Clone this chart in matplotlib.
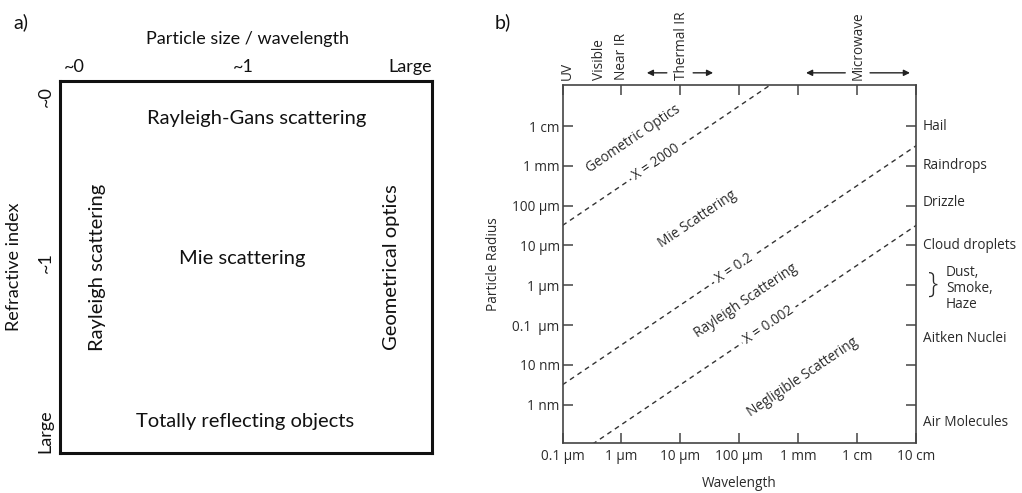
import numpy as np
import matplotlib.pyplot as plt
from matplotlib.transforms import blended_transform_factory

# panel b data
wl_ticks = [1e-7, 1e-6, 1e-5, 1e-4, 1e-3, 1e-2, 1e-1]
wl_labels = ["0.1 µm", "1 µm", "10 µm", "100 µm", "1 mm", "1 cm", "10 cm"]
r_ticks = [1e-9, 1e-8, 1e-7, 1e-6, 1e-5, 1e-4, 1e-3, 1e-2]
r_labels = ["1 nm", "10 nm", "0.1  µm", "1 µm", "10 µm", "100 µm", "1 mm", "1 cm"]

size_params = [2000, 0.2, 0.002]
size_labels = ["X = 2000", "X = 0.2", "X = 0.002"]
size_label_wl = [3.9e-6, 8.2e-5, 3.2e-4]

regions = ["Geometric Optics", "Mie Scattering", "Rayleigh Scattering", "Negligible Scattering"]
region_wl = [1.57e-6, 1.92e-5, 1.30e-4, 1.21e-3]
region_r = [4.7e-3, 4.65e-5, 4.1e-7, 4.8e-9]

particles = ["Hail", "Raindrops", "Drizzle", "Cloud droplets", "Aitken Nuclei", "Air Molecules"]
particle_r = [1e-2, 1e-3, 1.2e-4, 1e-5, 4.7e-8, 3.5e-10]
dust_r = 8.5e-7

bands = ["UV", "Visible", "Near IR", "Thermal IR", "Microwave"]
band_wl = [1.2e-7, 4.2e-7, 1.0e-6, 1.05e-5, 1.04e-2]
# arrows (tail, head) for the wide bands
band_arrows = [(5.9e-6, 2.7e-6), (1.65e-5, 3.6e-5), (6.3e-3, 1.36e-3), (1.66e-2, 7.9e-2)]

W, H = 1022, 493
fig = plt.figure(figsize=(W / 100, H / 100), dpi=100)

# ---------------- panel a ----------------
fa = "Lato"
ca = "#111111"
axa = fig.add_axes([60 / W, (H - 453) / H, 372 / W, 372 / H])
axa.set_xlim(0, 1)
axa.set_ylim(0, 1)
axa.set_xticks([])
axa.set_yticks([])
for s in axa.spines.values():
    s.set_linewidth(2.2)
    s.set_color("#111111")

big = 14.5
small = 13
axa.text(0.505, 1.113, "Particle size / wavelength", ha="center", va="center", fontsize=small, family=fa, color=ca,
         transform=axa.transAxes)
axa.text(0.01, 1.038, "~0", ha="left", va="center", fontsize=small, family=fa, color=ca, transform=axa.transAxes)
axa.text(0.492, 1.038, "~1", ha="center", va="center", fontsize=small, family=fa, color=ca, transform=axa.transAxes)
axa.text(1.0, 1.038, "Large", ha="right", va="center", fontsize=small, family=fa, color=ca, transform=axa.transAxes)

axa.text(-0.124, 0.5, "Refractive index", rotation=90, ha="center", va="center", fontsize=small, family=fa,
         color=ca, transform=axa.transAxes)
axa.text(-0.038, 0.957, "~0", rotation=90, ha="center", va="center", fontsize=small, family=fa, color=ca,
         transform=axa.transAxes)
axa.text(-0.038, 0.511, "~1", rotation=90, ha="center", va="center", fontsize=small, family=fa, color=ca,
         transform=axa.transAxes)
axa.text(-0.038, 0.0, "Large", rotation=90, ha="center", va="bottom", fontsize=small, family=fa, color=ca,
         transform=axa.transAxes)

axa.text(0.53, 0.9, "Rayleigh-Gans scattering", ha="center", va="center", fontsize=big, family=fa, color=ca)
axa.text(0.489, 0.524, "Mie scattering", ha="center", va="center", fontsize=big, family=fa, color=ca)
axa.text(0.497, 0.086, "Totally reflecting objects", ha="center", va="center", fontsize=big, family=fa, color=ca)
axa.text(0.102, 0.5, "Rayleigh scattering", rotation=90, ha="center", va="center", fontsize=big, family=fa, color=ca)
axa.text(0.892, 0.5, "Geometrical optics", rotation=90, ha="center", va="center", fontsize=big, family=fa, color=ca)

fig.text(21 / W, 1 - 22 / H, "a)", ha="center", va="center", fontsize=14, family=fa, color=ca)
fig.text(503 / W, 1 - 22 / H, "b)", ha="center", va="center", fontsize=14, family=fa, color=ca)

# ---------------- panel b ----------------
fb = "Open Sans"
cb = "#2a2a2a"
fs = 9.8
ax = fig.add_axes([562.5 / W, (H - 443) / H, 353.5 / W, 358 / H])
ax.set_xscale("log")
ax.set_yscale("log")
ax.set_xlim(1e-7, 1e-1)
ax.set_ylim(1.1e-10, 0.107)
for s in ax.spines.values():
    s.set_linewidth(1.2)
    s.set_color("#444444")

ax.set_xticks(wl_ticks)
ax.set_xticklabels(wl_labels)
ax.set_yticks(r_ticks)
ax.set_yticklabels(r_labels)
ax.minorticks_off()
ax.tick_params(axis="both", which="major", direction="in", length=7, width=1.1, color="#444444",
               labelsize=fs, labelcolor=cb, top=True, right=True, labeltop=False, labelright=False)
ax.tick_params(axis="x", pad=4)
ax.tick_params(axis="y", pad=2)
for lab in ax.get_xticklabels() + ax.get_yticklabels():
    lab.set_family(fb)

ax.set_xlabel("Wavelength", fontsize=fs, family=fb, color=cb, va="center")
ax.set_ylabel("Particle Radius", fontsize=fs, family=fb, color=cb, va="center")
ax.xaxis.set_label_coords(0.5, -0.112)
ax.yaxis.set_label_coords(-0.194, 0.5)

# size-parameter lines  r = X * wavelength / (2 pi)
wl_end = np.array([1e-7, 1e-1])
fig.canvas.draw()
p0 = ax.transData.transform((1e-6, 1e-6))
p1 = ax.transData.transform((1e-5, 1e-5))
ang = np.degrees(np.arctan2(p1[1] - p0[1], p1[0] - p0[0]))

for X, lab, wl in zip(size_params, size_labels, size_label_wl):
    ax.plot(wl_end, X * wl_end / (2 * np.pi), color="#333333", lw=1.0, ls=(0, (3.5, 3)), clip_on=True)
    ax.text(wl, X * wl / (2 * np.pi), lab, rotation=ang, rotation_mode="anchor", ha="center", va="center",
            fontsize=fs, family=fb, color=cb,
            bbox=dict(boxstyle="square,pad=0.25", fc="white", ec="none"))

for lab, wl, r in zip(regions, region_wl, region_r):
    ax.text(wl, r, lab, rotation=ang, rotation_mode="anchor", ha="center", va="center",
            fontsize=fs, family=fb, color=cb)

# particle labels on the right
tr_r = blended_transform_factory(ax.transAxes, ax.transData)
for lab, r in zip(particles, particle_r):
    ax.text(1.02, r, lab, ha="left", va="center", fontsize=fs, family=fb, color=cb, transform=tr_r, clip_on=False)
ax.text(1.085, dust_r, "Dust,\nSmoke,\nHaze", ha="left", va="center", fontsize=fs, family=fb, color=cb,
        linespacing=1.1, transform=tr_r, clip_on=False)
ax.text(1.048, dust_r * 1.2, "}", ha="center", va="center", fontsize=21, family=fb, color=cb,
        fontweight="light", transform=tr_r, clip_on=False)

# spectral bands on top
tr_b = blended_transform_factory(ax.transData, ax.transAxes)
for lab, wl in zip(bands, band_wl):
    ax.text(wl, 1.014, lab, rotation=90, ha="center", va="bottom", fontsize=fs, family=fb, color=cb,
            transform=tr_b, clip_on=False)
for tail, head in band_arrows:
    ax.annotate("", xy=(head, 1.034), xytext=(tail, 1.034), xycoords=tr_b, textcoords=tr_b,
                arrowprops=dict(arrowstyle="-|>", color="#222222", lw=1.0, mutation_scale=9,
                                shrinkA=0, shrinkB=0))

fig.savefig("out.png", dpi=100)
